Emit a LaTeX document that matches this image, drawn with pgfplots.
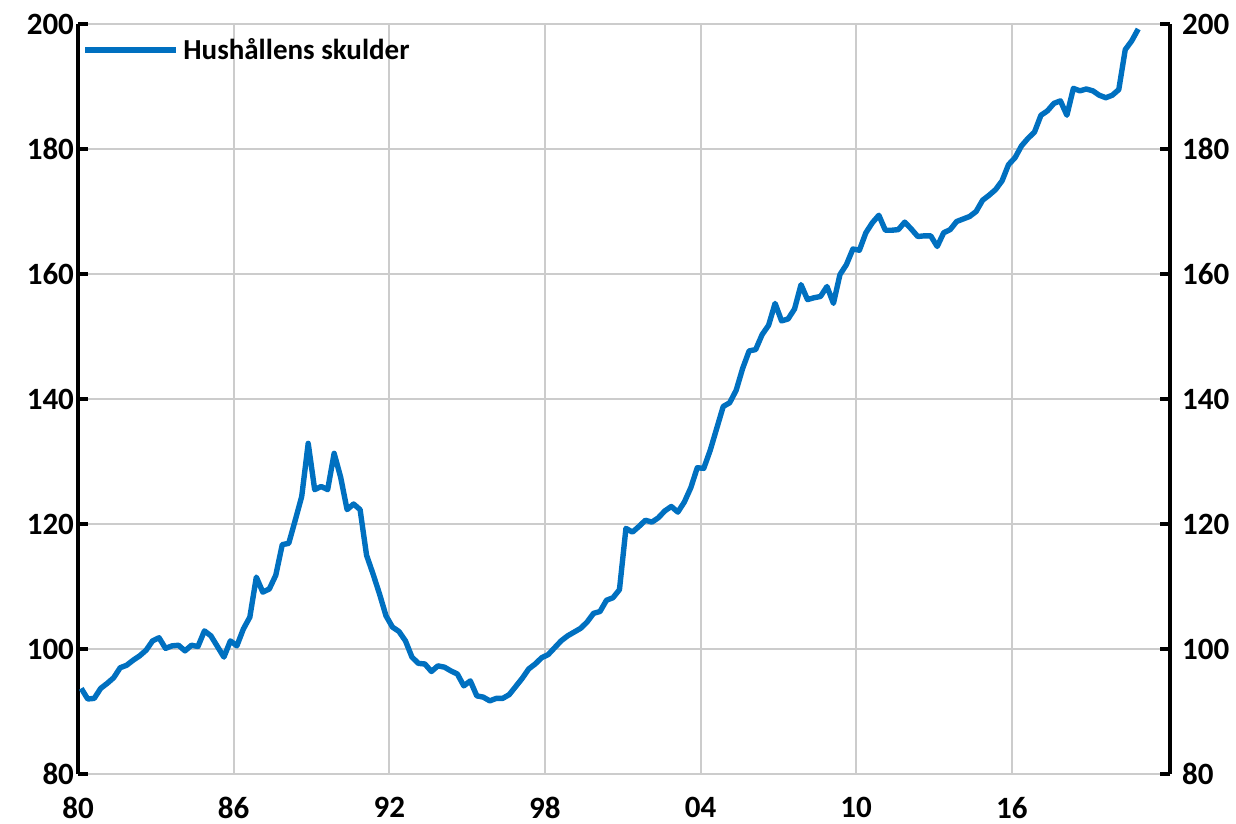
\documentclass[border=0pt]{standalone}
\usepackage{fontspec}
\setmainfont{Carlito}
\usepackage{pgfplots}
\usepackage{pgfplotstable}
\pgfplotsset{compat=1.18}
\definecolor{serie}{RGB}{0,112,192}

\pgfplotstableread{
x y
1980.125 93.7
1980.375 92.0
1980.625 92.1
1980.875 93.7
1981.125 94.5
1981.375 95.4
1981.625 97.0
1981.875 97.4
1982.125 98.2
1982.375 98.9
1982.625 99.8
1982.875 101.3
1983.125 101.8
1983.375 100.1
1983.625 100.5
1983.875 100.6
1984.125 99.7
1984.375 100.6
1984.625 100.4
1984.875 102.9
1985.125 102.1
1985.375 100.4
1985.625 98.7
1985.875 101.3
1986.125 100.5
1986.375 103.2
1986.625 105.1
1986.875 111.5
1987.125 109.1
1987.375 109.6
1987.625 111.8
1987.875 116.7
1988.125 116.9
1988.375 120.6
1988.625 124.4
1988.875 132.9
1989.125 125.5
1989.375 126.0
1989.625 125.5
1989.875 131.3
1990.125 127.5
1990.375 122.3
1990.625 123.2
1990.875 122.3
1991.125 115.0
1991.375 112.0
1991.625 108.8
1991.875 105.3
1992.125 103.5
1992.375 102.8
1992.625 101.3
1992.875 98.7
1993.125 97.7
1993.375 97.6
1993.625 96.4
1993.875 97.3
1994.125 97.1
1994.375 96.5
1994.625 96.0
1994.875 94.1
1995.125 94.9
1995.375 92.5
1995.625 92.3
1995.875 91.7
1996.125 92.1
1996.375 92.1
1996.625 92.7
1996.875 94.0
1997.125 95.3
1997.375 96.8
1997.625 97.6
1997.875 98.6
1998.125 99.1
1998.375 100.2
1998.625 101.3
1998.875 102.1
1999.125 102.7
1999.375 103.3
1999.625 104.3
1999.875 105.7
2000.125 106.0
2000.375 107.8
2000.625 108.2
2000.875 109.5
2001.125 119.3
2001.375 118.7
2001.625 119.6
2001.875 120.6
2002.125 120.3
2002.375 121.0
2002.625 122.1
2002.875 122.8
2003.125 121.9
2003.375 123.5
2003.625 125.8
2003.875 129.0
2004.125 128.9
2004.375 131.8
2004.625 135.3
2004.875 138.8
2005.125 139.4
2005.375 141.4
2005.625 144.9
2005.875 147.7
2006.125 147.9
2006.375 150.3
2006.625 151.8
2006.875 155.3
2007.125 152.5
2007.375 152.8
2007.625 154.4
2007.875 158.3
2008.125 155.9
2008.375 156.2
2008.625 156.4
2008.875 158.0
2009.125 155.3
2009.375 159.9
2009.625 161.5
2009.875 164.0
2010.125 163.8
2010.375 166.6
2010.625 168.2
2010.875 169.4
2011.125 167.0
2011.375 167.0
2011.625 167.1
2011.875 168.3
2012.125 167.2
2012.375 166.0
2012.625 166.1
2012.875 166.1
2013.125 164.4
2013.375 166.6
2013.625 167.1
2013.875 168.4
2014.125 168.8
2014.375 169.2
2014.625 170.0
2014.875 171.8
2015.125 172.6
2015.375 173.5
2015.625 174.9
2015.875 177.5
2016.125 178.6
2016.375 180.5
2016.625 181.7
2016.875 182.7
2017.125 185.4
2017.375 186.1
2017.625 187.3
2017.875 187.7
2018.125 185.4
2018.375 189.7
2018.625 189.3
2018.875 189.6
2019.125 189.3
2019.375 188.6
2019.625 188.2
2019.875 188.6
2020.125 189.5
2020.375 195.9
2020.625 197.3
2020.875 199.2
}\datatable

\pgfplotsset{
  common/.style={
    scale only axis, width=546pt, height=375pt,
    xmin=1980, xmax=2022.1, ymin=80, ymax=200,
    ytick={80,100,...,200},
    tick align=inside,
    major tick length=5pt,
    y axis line style={line width=2.2pt, black},
    y tick style={line width=2.2pt, black},
    ticklabel style={font=\fontsize{15.5}{17}\selectfont\bfseries},
    /pgf/number format/assume math mode=true,
  }
}

\begin{document}
\begin{tikzpicture}
\begin{axis}[
  common,
  name=main,
  axis y line*=left, axis x line*=bottom,
  x axis line style={draw=none},
  xtick={1980,1986,...,2016},
  xticklabels={80,86,92,98,04,10,16},
  x tick style={draw=none},
  grid=major, grid style={gray!40, line width=1pt},
  xticklabel style={yshift=-8pt},
  yticklabel style={xshift=1.5pt},
  legend style={at={(0,1)}, anchor=north west, draw=none, fill=none,
    font=\fontsize{14.5}{16}\selectfont\bfseries, xshift=-1pt, yshift=-3pt},
  legend cell align=left,
  legend image code/.code={\draw[#1, line width=3pt] (0pt,0pt) -- (45.5pt,0pt);},
]
\addplot[serie, line width=2.7pt, line join=round, mark=none] table {\datatable};
\addlegendentry{Hushållens skulder}
\end{axis}
\begin{axis}[
  common,
  axis y line*=right, axis x line=none,
  yticklabel style={xshift=2.5pt},
]
\end{axis}
\pgfresetboundingbox
\path ([shift={(-39pt,-25pt)}]main.south west) rectangle ([shift={(33pt,12pt)}]main.north east);
\end{tikzpicture}
\end{document}
